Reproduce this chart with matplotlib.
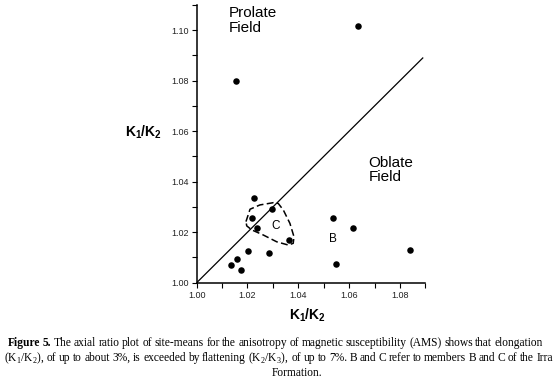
import numpy as np
import matplotlib
matplotlib.use("Agg")
import matplotlib.pyplot as plt
from matplotlib.ticker import MultipleLocator, FormatStrFormatter

plt.rcParams["font.family"] = ["Liberation Sans", "DejaVu Sans"]
plt.rcParams["mathtext.fontset"] = "custom"
plt.rcParams["mathtext.rm"] = "Liberation Serif"
plt.rcParams["mathtext.bf"] = "Liberation Sans:bold"

# site means (x = K1/K2, y as labelled)
k_x = [1.0635, 1.0155, 1.0226, 1.0219, 1.0295, 1.0239, 1.0362, 1.0202,
       1.0159, 1.0134, 1.0174, 1.0285, 1.0537, 1.0614, 1.0550, 1.0840]
k_y = [1.1018, 1.0798, 1.0334, 1.0256, 1.0293, 1.0215, 1.0169, 1.0127,
       1.0095, 1.0070, 1.0049, 1.0116, 1.0256, 1.0217, 1.0074, 1.0129]

# hand-drawn outline round member C
c_x = [1.0194, 1.0210, 1.0249, 1.0302, 1.0321, 1.0341, 1.0367, 1.0383,
       1.0380, 1.0361, 1.0315, 1.0262, 1.0217, 1.0197, 1.0194]
c_y = [1.0242, 1.0291, 1.0308, 1.0317, 1.0314, 1.0288, 1.0235, 1.0182,
       1.0156, 1.0149, 1.0162, 1.0189, 1.0209, 1.0225, 1.0242]

line_end = 1.089

caption = [
    [("Figure 5.", "bold"),
     ("The axial ratio plot of site-means for the anisotropy of magnetic "
      "susceptibility (AMS) shows that elongation", "normal")],
    [("(K$_1$/K$_2$), of up to about 3%, is exceeded by flattening "
      "(K$_2$/K$_3$), of up to 7%. B and C refer to members B and C of the Irra",
      "normal")],
    [("Formation.", "normal")],
]

fig = plt.figure(figsize=(5.58, 3.81), dpi=100)
ax = fig.add_axes([0.3525, 0.258, 0.4097, 0.729])

ax.plot([1.0, line_end], [1.0, line_end], color="black", lw=0.9)
ax.scatter(k_x, k_y, s=22, color="black", zorder=3, linewidths=0)
ax.plot(c_x, c_y, color="black", lw=1.1, linestyle=(0, (4.5, 2.2)))

ax.text(1.0127, 1.1094, "Prolate\nField", fontsize=11, va="top", ha="left",
        linespacing=1.05)
ax.text(1.0676, 1.0502, "Oblate\nField", fontsize=11, va="top", ha="left",
        linespacing=1.0)
ax.text(1.0311, 1.0225, "C", fontsize=8.5, ha="center", va="center")
ax.text(1.0537, 1.0172, "B", fontsize=8.5, ha="center", va="center")

ax.set_xlim(1.0, 1.09)
ax.set_ylim(1.0, 1.11)
for side in ["top", "right"]:
    ax.spines[side].set_visible(False)
for side in ["left", "bottom"]:
    ax.spines[side].set_linewidth(1.1)

for axis in [ax.xaxis, ax.yaxis]:
    axis.set_major_locator(MultipleLocator(0.02))
    axis.set_minor_locator(MultipleLocator(0.01))
    axis.set_major_formatter(FormatStrFormatter("%.2f"))
ax.tick_params(which="both", direction="out", length=3.3, width=0.8,
               labelsize=6.5, labelcolor="#222222", pad=2.5)

ax.set_xlabel(r"K$_\mathbf{1}$/K$_\mathbf{2}$", fontsize=10, fontweight="bold")
ax.xaxis.set_label_coords(0.487, -0.116)
ax.xaxis.label.set_va("center")
ax.set_ylabel(r"K$_\mathbf{1}$/K$_\mathbf{2}$", fontsize=10, fontweight="bold",
              rotation=0, ha="center", va="center")
ax.yaxis.set_label_coords(-0.2305, 0.5426)

# caption, justified word by word like the printed page
renderer = fig.canvas.get_renderer()
W, H = 558.0, 381.0
cap_size = 8.3
spans = [(8, 543, 346), (4, 553, 361), (None, 297, 376)]

for pieces, (x0, x1, base) in zip(caption, spans):
    words = []
    for txt, weight in pieces:
        for w in txt.split(" "):
            words.append((w, weight))
    objs = []
    for w, weight in words:
        t = fig.text(0, 1 - base / H, w, fontsize=cap_size, fontweight=weight,
                     family="Liberation Serif", va="baseline", ha="left")
        objs.append(t)
    widths = [t.get_window_extent(renderer).width for t in objs]
    if x0 is None:
        gap = 2.5
        total = sum(widths) + gap * (len(widths) - 1)
        x = x1 - total / 2
    else:
        gap = (x1 - x0 - sum(widths)) / max(len(widths) - 1, 1)
        x = x0
    for t, wd in zip(objs, widths):
        t.set_x(x / W)
        x += wd + gap

fig.savefig("out.png", dpi=100)
